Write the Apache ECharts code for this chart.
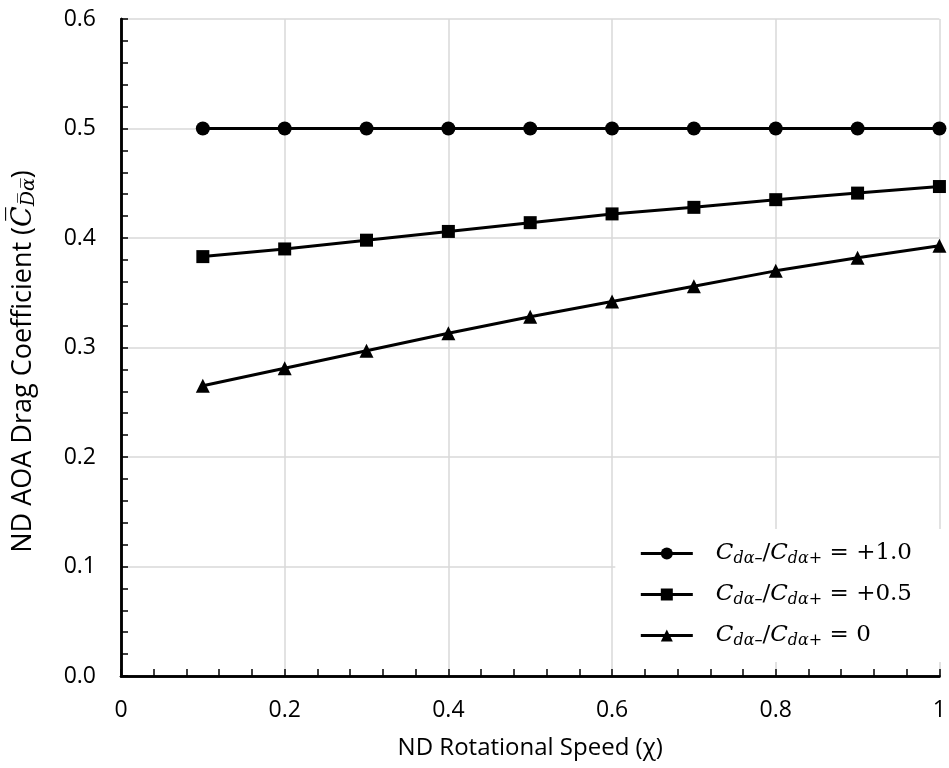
<!DOCTYPE html>
<html><head><meta charset="utf-8">
<script src="https://cdn.jsdelivr.net/npm/echarts@6/dist/echarts.min.js"></script>
<style>html,body{margin:0;padding:0;background:#fff}#c{width:949px;height:768px}</style>
</head><body><div id="c"></div>
<script>
const xValues = [0.1, 0.2, 0.3, 0.4, 0.5, 0.6, 0.7, 0.8, 0.9, 1.0];
const seriesRatio10 = [0.5, 0.5, 0.5, 0.5, 0.5, 0.5, 0.5, 0.5, 0.5, 0.5];
const seriesRatio05 = [0.383, 0.390, 0.398, 0.406, 0.414, 0.422, 0.428, 0.435, 0.441, 0.447];
const seriesRatio00 = [0.265, 0.281, 0.297, 0.313, 0.328, 0.342, 0.356, 0.370, 0.382, 0.393];
const seriesNames = ['ratio10', 'ratio05', 'ratio00'];
const legendValues = ['+1.0', '+0.5', '0'];
const xTickLabels = ['0', '0.2', '0.4', '0.6', '0.8', '1'];

const chart = echarts.init(document.getElementById('c'));
const mk = (vals) => vals.map((v, i) => [xValues[i], v]);
const symbols = ['circle', 'rect', 'triangle'];
const sizes = [14, 13, 14];
const datasets = [seriesRatio10, seriesRatio05, seriesRatio00];
const labelFont = '"Open Sans", "Noto Sans", sans-serif';
const mathFont = '"DejaVu Serif", "Liberation Serif", serif';

const frameAxis = {
  axisLine: { show: true, lineStyle: { color: '#000', width: 2.5 } },
  axisTick: { show: false }, axisLabel: { show: false }, splitLine: { show: false }
};

chart.setOption({
  animation: false,
  grid: { left: 121, right: 2, top: 19, bottom: 92 },
  legend: {
    right: 7, bottom: 106,
    orient: 'vertical',
    backgroundColor: '#fff',
    padding: [13, 30, 13, 24],
    itemGap: 16,
    itemWidth: 52, itemHeight: 15,
    lineStyle: { width: 3, color: '#000' },
    data: seriesNames,
    formatter: (name) => {
      const v = legendValues[seriesNames.indexOf(name)];
      return '{i|C}{s|dα–}{n|/}{i|C}{s|dα+}{n| = ' + v + '}';
    },
    textStyle: {
      padding: [0, 0, 0, 18],
      rich: {
        i: { fontFamily: mathFont, fontStyle: 'italic', fontSize: 23, color: '#000' },
        s: { fontFamily: mathFont, fontStyle: 'italic', fontSize: 16, color: '#000', verticalAlign: 'bottom', padding: [11, 0, 0, 0] },
        n: { fontFamily: mathFont, fontSize: 23, color: '#000' }
      }
    }
  },
  xAxis: [{
    type: 'value', min: 0, max: 1, interval: 0.2,
    name: 'ND Rotational Speed (χ)', nameLocation: 'middle', nameGap: 60,
    nameTextStyle: { fontFamily: labelFont, fontSize: 24, color: '#000' },
    axisLine: { lineStyle: { color: '#000', width: 2.5 } },
    axisTick: { inside: true, length: 7, lineStyle: { color: '#000', width: 1.5 } },
    minorTick: { show: true, splitNumber: 5, length: 7, lineStyle: { color: '#000', width: 1.5 } },
    splitLine: { show: true, lineStyle: { color: '#d9d9d9', width: 1.5 } },
    axisLabel: { margin: 23, fontFamily: labelFont, fontSize: 23, color: '#000',
      formatter: (v) => xTickLabels[Math.round(v / 0.2)] },
  }, Object.assign({ type: 'value', min: 0, max: 1, position: 'top' }, frameAxis)],
  yAxis: [{
    type: 'value', min: 0, max: 0.6, interval: 0.1,
    name: '{a|ND AOA Drag Coefficient (}{c|C\u0305}{s|D\u0305α\u0305}{a|)}', nameLocation: 'middle', nameGap: 82, nameRotate: 90,
    nameTextStyle: { fontFamily: labelFont, fontSize: 27, color: '#000', padding: [0, 28, 0, 0], rich: {
      a: { fontFamily: labelFont, fontSize: 27, color: '#000' },
      c: { fontFamily: mathFont, fontStyle: 'italic', fontSize: 27, color: '#000' },
      s: { fontFamily: mathFont, fontStyle: 'italic', fontSize: 19, color: '#000', verticalAlign: 'bottom', padding: [12, 0, 0, 0] }
    } },
    axisLine: { lineStyle: { color: '#000', width: 2.5 } },
    axisTick: { inside: true, length: 7, lineStyle: { color: '#000', width: 1.5 } },
    minorTick: { show: true, splitNumber: 5, length: 7, lineStyle: { color: '#000', width: 1.5 } },
    splitLine: { show: true, lineStyle: { color: '#d9d9d9', width: 1.5 } },
    axisLabel: { margin: 25, fontFamily: labelFont, fontSize: 23, color: '#000',
      formatter: (v) => v.toFixed(1) },
  }, Object.assign({ type: 'value', min: 0, max: 0.6, position: 'right' }, frameAxis)],
  series: datasets.map((d, i) => ({
    name: seriesNames[i], type: 'line', data: mk(d),
    symbol: symbols[i], symbolSize: sizes[i], showAllSymbol: true,
    clip: false,
    lineStyle: { color: '#000', width: 3 },
    itemStyle: { color: '#000' },
    z: 3
  }))
});
</script></body></html>
